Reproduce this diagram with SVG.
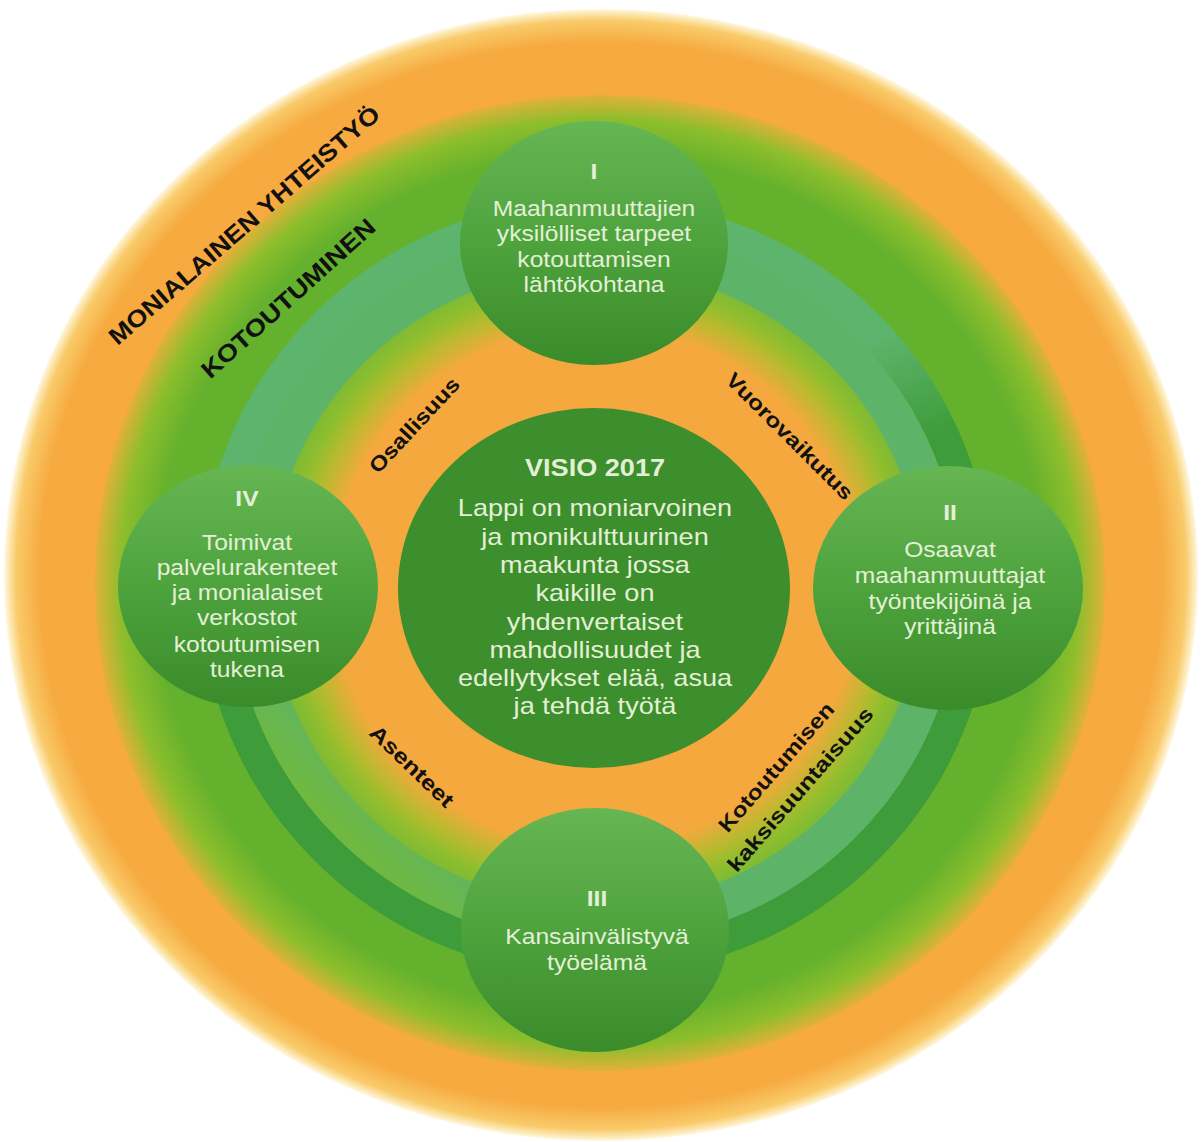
<svg xmlns="http://www.w3.org/2000/svg" width="1203" height="1142" viewBox="0 0 1203 1142">
<defs>
  <style>
    .nt{font-family:"Liberation Sans",Arial,sans-serif;font-size:22px;fill:#E4F0D6;text-anchor:middle}
    .num{font-weight:bold}
    .vt{font-family:"Liberation Sans",Arial,sans-serif;font-size:24px;fill:#E4F0D6;text-anchor:middle}
    .lbl{font-family:"Liberation Sans",Arial,sans-serif;font-weight:bold;fill:#111;text-anchor:middle}
  </style>
  <radialGradient id="gOrange" cx="0.5" cy="0.5" r="0.5">
    <stop offset="0" stop-color="#F5A73E"/>
    <stop offset="0.94" stop-color="#F6AA3F"/>
    <stop offset="0.98" stop-color="#F9CB6A"/>
    <stop offset="1" stop-color="#FFF8E0"/>
  </radialGradient>
  <radialGradient id="gGreen" cx="0.5" cy="0.5" r="0.5">
    <stop offset="0" stop-color="#62B02E"/>
    <stop offset="0.88" stop-color="#64B12D"/>
    <stop offset="0.95" stop-color="#8DBE2C"/>
    <stop offset="1" stop-color="#E2B03A"/>
  </radialGradient>
  <radialGradient id="gInner" cx="0.5" cy="0.5" r="0.5">
    <stop offset="0" stop-color="#F5A83E"/>
    <stop offset="0.78" stop-color="#F5A83E"/>
    <stop offset="0.86" stop-color="#B9BA2E"/>
    <stop offset="0.92" stop-color="#8EBE2E"/>
    <stop offset="1" stop-color="#72B73A"/>
  </radialGradient>
  <linearGradient id="gOuterBand" gradientUnits="userSpaceOnUse" x1="480" y1="240" x2="720" y2="940">
    <stop offset="0" stop-color="#5DB46C"/>
    <stop offset="0.3" stop-color="#5DB46C"/>
    <stop offset="0.45" stop-color="#3E9C3A"/>
    <stop offset="1" stop-color="#3E9C3A"/>
  </linearGradient>
  <linearGradient id="gInnerBand" gradientUnits="userSpaceOnUse" x1="250" y1="900" x2="500" y2="650">
    <stop offset="0" stop-color="#70B83E"/>
    <stop offset="0.3" stop-color="#70B83E"/>
    <stop offset="0.55" stop-color="#5DB468"/>
    <stop offset="1" stop-color="#5DB468"/>
  </linearGradient>
  <linearGradient id="gNode" x1="0" y1="0" x2="0" y2="1">
    <stop offset="0" stop-color="#66B653"/>
    <stop offset="0.5" stop-color="#4EA33D"/>
    <stop offset="1" stop-color="#3A8B2A"/>
  </linearGradient>
</defs>

<rect x="0" y="0" width="1203" height="1142" fill="#FFFFFF"/>

<g id="background">
  <ellipse cx="601" cy="575" rx="597" ry="566" fill="url(#gOrange)"/>
  <ellipse cx="600" cy="583" rx="505" ry="488" fill="url(#gGreen)"/>
  <ellipse cx="596" cy="587" rx="338" ry="332" fill="url(#gInner)"/>
</g>

<g id="connectors" fill="none">
  <ellipse cx="596" cy="587" rx="380" ry="373" stroke="url(#gOuterBand)" stroke-width="32"/>
  <ellipse cx="596" cy="587" rx="345" ry="338" stroke="url(#gInnerBand)" stroke-width="38"/>
</g>

<g id="node-I">
  <ellipse cx="594" cy="243" rx="134" ry="122" fill="url(#gNode)"/>
  <g transform="translate(594,0) scale(1.12,1)">
    <text class="nt num" x="0" y="179">I</text>
    <text class="nt" x="0" y="216">Maahanmuuttajien</text>
    <text class="nt" x="0" y="241">yksilölliset tarpeet</text>
    <text class="nt" x="0" y="267">kotouttamisen</text>
    <text class="nt" x="0" y="292">lähtökohtana</text>
  </g>
</g>

<g id="node-II">
  <ellipse cx="948" cy="588" rx="135" ry="122" fill="url(#gNode)"/>
  <g transform="translate(950,0) scale(1.12,1)">
    <text class="nt num" x="0" y="520">II</text>
    <text class="nt" x="0" y="557">Osaavat</text>
    <text class="nt" x="0" y="583">maahanmuuttajat</text>
    <text class="nt" x="0" y="609">työntekijöinä ja</text>
    <text class="nt" x="0" y="634">yrittäjinä</text>
  </g>
</g>

<g id="node-III">
  <ellipse cx="595" cy="930" rx="134" ry="122" fill="url(#gNode)"/>
  <g transform="translate(597,0) scale(1.12,1)">
    <text class="nt num" x="0" y="906">III</text>
    <text class="nt" x="0" y="944">Kansainvälistyvä</text>
    <text class="nt" x="0" y="970">työelämä</text>
  </g>
</g>

<g id="node-IV">
  <ellipse cx="248" cy="586" rx="130" ry="121" fill="url(#gNode)"/>
  <g transform="translate(247,0) scale(1.12,1)">
    <text class="nt num" x="0" y="506">IV</text>
    <text class="nt" x="0" y="550">Toimivat</text>
    <text class="nt" x="0" y="575">palvelurakenteet</text>
    <text class="nt" x="0" y="600">ja monialaiset</text>
    <text class="nt" x="0" y="625">verkostot</text>
    <text class="nt" x="0" y="652">kotoutumisen</text>
    <text class="nt" x="0" y="677">tukena</text>
  </g>
</g>

<g id="node-visio">
  <ellipse cx="594" cy="588" rx="196" ry="180" fill="#3D8E2C"/>
  <g transform="translate(595,0) scale(1.13,1)">
    <text class="vt num" x="0" y="476">VISIO 2017</text>
    <text class="vt" x="0" y="516">Lappi on moniarvoinen</text>
    <text class="vt" x="0" y="545">ja monikulttuurinen</text>
    <text class="vt" x="0" y="573">maakunta jossa</text>
    <text class="vt" x="0" y="601">kaikille on</text>
    <text class="vt" x="0" y="630">yhdenvertaiset</text>
    <text class="vt" x="0" y="658">mahdollisuudet ja</text>
    <text class="vt" x="0" y="686">edellytykset elää, asua</text>
    <text class="vt" x="0" y="714">ja tehdä työtä</text>
  </g>
</g>

<g id="labels">
  <text class="lbl" font-size="24" transform="translate(244,225) rotate(-41)" x="0" y="8.6" textLength="350" lengthAdjust="spacingAndGlyphs">MONIALAINEN YHTEISTYÖ</text>
  <text class="lbl" font-size="24" transform="translate(288,298) rotate(-42)" x="0" y="8.6" textLength="225" lengthAdjust="spacingAndGlyphs">KOTOUTUMINEN</text>
  <text class="lbl" font-size="21" transform="translate(414,425) rotate(-47)" x="0" y="7.5" textLength="122" lengthAdjust="spacingAndGlyphs">Osallisuus</text>
  <text class="lbl" font-size="21" transform="translate(790,436) rotate(45)" x="0" y="7.5" textLength="170" lengthAdjust="spacingAndGlyphs">Vuorovaikutus</text>
  <text class="lbl" font-size="21" transform="translate(412,766) rotate(44)" x="0" y="7.5" textLength="108" lengthAdjust="spacingAndGlyphs">Asenteet</text>
  <text class="lbl" font-size="21" transform="translate(776,767) rotate(-49)" x="0" y="7.5" textLength="164" lengthAdjust="spacingAndGlyphs">Kotoutumisen</text>
  <text class="lbl" font-size="21" transform="translate(800,789) rotate(-49)" x="0" y="7.5" textLength="210" lengthAdjust="spacingAndGlyphs">kaksisuuntaisuus</text>
</g>
</svg>
